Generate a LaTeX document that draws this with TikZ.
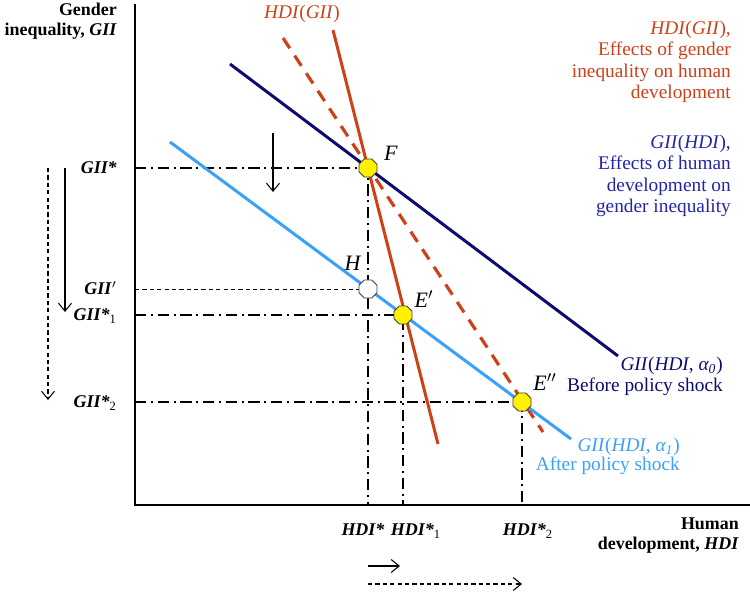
\documentclass[tikz,border=0pt]{standalone}
\usepackage{fontspec}
\setmainfont{Liberation Serif}
\usepackage{xcolor}
\usetikzlibrary{arrows.meta,shapes.geometric}
\definecolor{hred}{RGB}{206,64,22}
\definecolor{gnavy}{RGB}{12,12,112}
\definecolor{gblue}{RGB}{36,36,170}
\definecolor{gsky}{RGB}{58,160,250}
\tikzset{
  ax/.style={line width=1.2pt},
  gcur/.style={line width=1.7pt,gnavy},
  gcurs/.style={line width=1.7pt,gsky},
  hcur/.style={line width=1.7pt,hred},
  hcurd/.style={line width=1.8pt,hred,dash pattern=on 7pt off 5pt},
  proj/.style={line width=1.1pt,dash pattern=on 6.5pt off 2.6pt on 1.2pt off 2.6pt},
  projthin/.style={line width=0.5pt,dash pattern=on 2.4pt off 1.8pt},
  mv/.style={line width=0.6pt,-{Straight Barb[length=1.6mm,width=2.6mm]}},
  mvd/.style={mv,dash pattern=on 2.4pt off 1.8pt},
  pt/.style={regular polygon,regular polygon sides=8,draw=black!75,line width=0.5pt,fill=yellow,inner sep=0pt,minimum size=0.39cm},
  ptw/.style={pt,fill=white},
  rlab/.style={align=right,anchor=east},
  plab/.style={font=\fontsize{12.5}{14}\selectfont},
  blab/.style={font=\fontsize{10.2}{11.4}\selectfont}
}
\newcommand{\bi}[1]{\textbf{\textit{#1}}}

\begin{document}
\begin{tikzpicture}[font=\fontsize{11}{12.2}\selectfont]
\useasboundingbox (0,0) rectangle (15,11.82);
% axes
\coordinate (O) at (2.70,1.72);
\coordinate (ytop) at (2.70,11.74);
\coordinate (xend) at (15,1.72);
\draw[ax] (ytop) -- (O) -- (xend);
\node[rlab,blab] (ylab) at (2.46,11.40) {\textbf{Gender}\\\textbf{inequality, \textit{GII}}};
\node[rlab,blab] (xlab) at (14.90,1.11) {\textbf{Human}\\\textbf{development, \textit{HDI}}};
% equilibria
\coordinate (F) at (7.36,8.46);
\coordinate (H) at (7.36,6.04);
\coordinate (E1) at (8.06,5.52);
\coordinate (E2) at (10.44,3.78);
\draw[proj] (O |- F) -- (F) -- (F |- O);
\draw[proj] (O |- E1) -- (E1) -- (E1 |- O);
\draw[proj] (O |- E2) -- (E2) -- (E2 |- O);
\draw[projthin] (O |- H) -- (H);
% curves
\coordinate (g0a) at (4.60,10.54); \coordinate (g0b) at (12.36,4.70);
\coordinate (g1a) at (3.40,8.98); \coordinate (g1b) at (11.42,3.04);
\coordinate (ha) at (6.66,11.22); \coordinate (hb) at (8.76,2.94);
\coordinate (hda) at (5.66,11.06); \coordinate (hdb) at (10.86,3.18);
\draw[gcur] (g0a) -- (g0b);
\draw[hcurd] (hda) -- (hdb);
\draw[gcurs] (g1a) -- (g1b);
\draw[hcur] (ha) -- (hb);
\node[pt] (nF) at (F) {};
\node[ptw] (nH) at (H) {};
\node[pt] (nE1) at (E1) {};
\node[pt] (nE2) at (E2) {};
\node[plab] (lF) at (7.82,8.76) {\textit{F}};
\node[plab] (lH) at (7.06,6.56) {\textit{H}};
\node[plab] (lE1) at (8.48,5.84) {\textit{E}$'$};
\node[plab] (lE2) at (10.90,4.18) {\textit{E}$''$};
% axis values
\node[anchor=east,blab] (yF) at (2.46,8.46) {\bi{GII*}};
\node[anchor=east,blab] (yH) at (2.46,6.06) {\bi{GII}$'$};
\node[anchor=east,blab] (yE1) at (2.46,5.50) {\bi{GII*}\textsubscript{1}};
\node[anchor=east,blab] (yE2) at (2.46,3.76) {\bi{GII*}\textsubscript{2}};
\node[blab] (xF) at (7.26,1.22) {\bi{HDI*}};
\node[blab] (xE1) at (8.32,1.20) {\bi{HDI*}\textsubscript{1}};
\node[blab] (xE2) at (10.56,1.20) {\bi{HDI*}\textsubscript{2}};
% curve labels
\node[hred] (lh) at (6.04,11.54) {\textit{HDI}(\textit{GII})};
\node[rlab,hred] (th) at (14.74,10.58) {\textit{HDI}(\textit{GII}),\\Effects of gender\\inequality on human\\development};
\node[rlab,gblue] (tg) at (14.74,8.30) {\textit{GII}(\textit{HDI}),\\Effects of human\\development on\\gender inequality};
\node[rlab,gnavy] (tg0) at (14.58,4.29) {\textit{GII}(\textit{HDI}, \textit{α\textsubscript{0}})\\Before policy shock};
\node[rlab,gsky,font=\fontsize{11}{11.2}\selectfont] (tg1) at (13.72,2.69) {\textit{GII}(\textit{HDI}, \textit{α\textsubscript{1}})\\After policy shock};
% shifts
\coordinate (s1a) at (1.30,8.46); \coordinate (s1b) at (1.30,5.58);
\coordinate (s2a) at (0.96,8.46); \coordinate (s2b) at (0.96,3.82);
\coordinate (s3a) at (5.46,9.16); \coordinate (s3b) at (5.46,7.98);
\coordinate (s4a) at (7.36,0.50); \coordinate (s4b) at (8.00,0.50);
\coordinate (s5a) at (7.36,0.14); \coordinate (s5b) at (10.44,0.14);
\draw[mv] (s1a) -- (s1b);
\draw[mvd] (s2a) -- (s2b);
\draw[mv] (s3a) -- (s3b);
\draw[mv] (s4a) -- (s4b);
\draw[mvd] (s5a) -- (s5b);
\end{tikzpicture}
\end{document}
